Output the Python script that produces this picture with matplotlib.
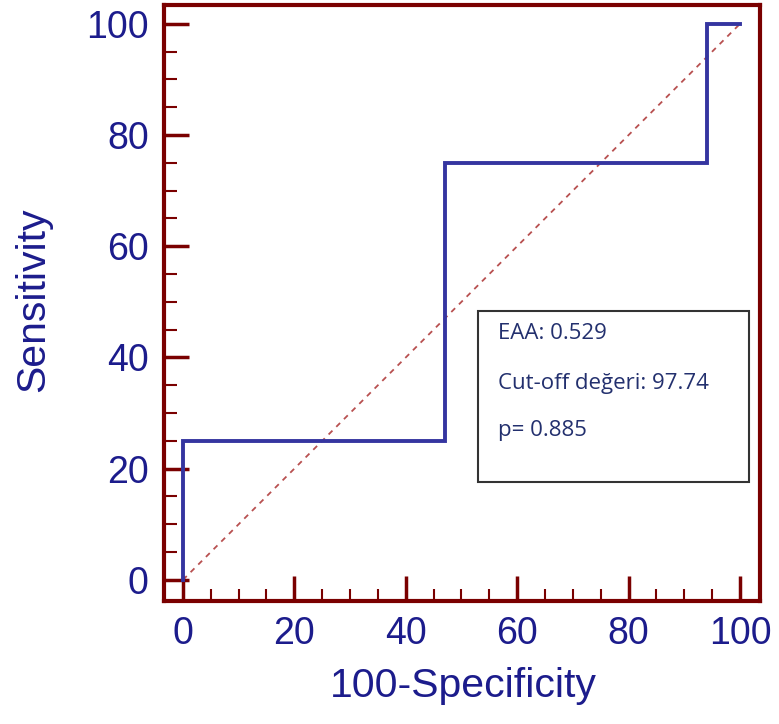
import matplotlib.pyplot as plt
from matplotlib.ticker import MultipleLocator

# ROC curve steps (100-Specificity, Sensitivity)
fpr = [0, 0, 47, 47, 94, 94, 100]
tpr = [0, 25, 25, 75, 75, 100, 100]
ticks = [0, 20, 40, 60, 80, 100]
stats_lines = ['EAA: 0.529', 'Cut-off değeri: 97.74', 'p= 0.885']
stats_y = [44.4, 35.4, 26.8]

spine_col = '#7a0000'
label_col = '#1c1c8c'

fig = plt.figure(figsize=(7.79, 7.24), dpi=100)
ax = fig.add_axes([0.2105, 0.1699, 0.7651, 0.8232])

ax.plot([0, 100], [0, 100], color='#b85050', lw=1.3, ls=(0, (3, 3)))
ax.plot(fpr, tpr, color='#3535a0', lw=2.8, solid_joinstyle='miter')

ax.set_xlim(-3.4, 103.6)
ax.set_ylim(-3.8, 103.4)
ax.set_xticks(ticks)
ax.set_yticks(ticks)
ax.xaxis.set_minor_locator(MultipleLocator(5))
ax.yaxis.set_minor_locator(MultipleLocator(5))
ax.tick_params(which='major', direction='in', length=18, width=2.5, color=spine_col,
               labelsize=27, labelcolor=label_col, pad=11)
ax.tick_params(which='minor', direction='in', length=9, width=1.5, color=spine_col)
for lab in ax.get_xticklabels() + ax.get_yticklabels():
    lab.set_family('Liberation Sans')
for sp in ax.spines.values():
    sp.set_color(spine_col)
    sp.set_linewidth(3)

ax.set_xlabel('100-Specificity', fontsize=29.5, color=label_col, family='Liberation Sans', va='top')
ax.set_ylabel('Sensitivity', fontsize=29.5, color=label_col, family='Liberation Sans')
ax.xaxis.set_label_coords(0.503, -0.111)
ax.yaxis.set_label_coords(-0.188, 0.505)

# stats box
ax.add_patch(plt.Rectangle((53, 17.6), 48.6, 30.8, fill=False, ec='#333333', lw=1.5))
for s, y in zip(stats_lines, stats_y):
    ax.text(56.6, y, s, fontsize=16, color='#23306e', family='Open Sans', va='center')

fig.savefig('out.png', dpi=100)
